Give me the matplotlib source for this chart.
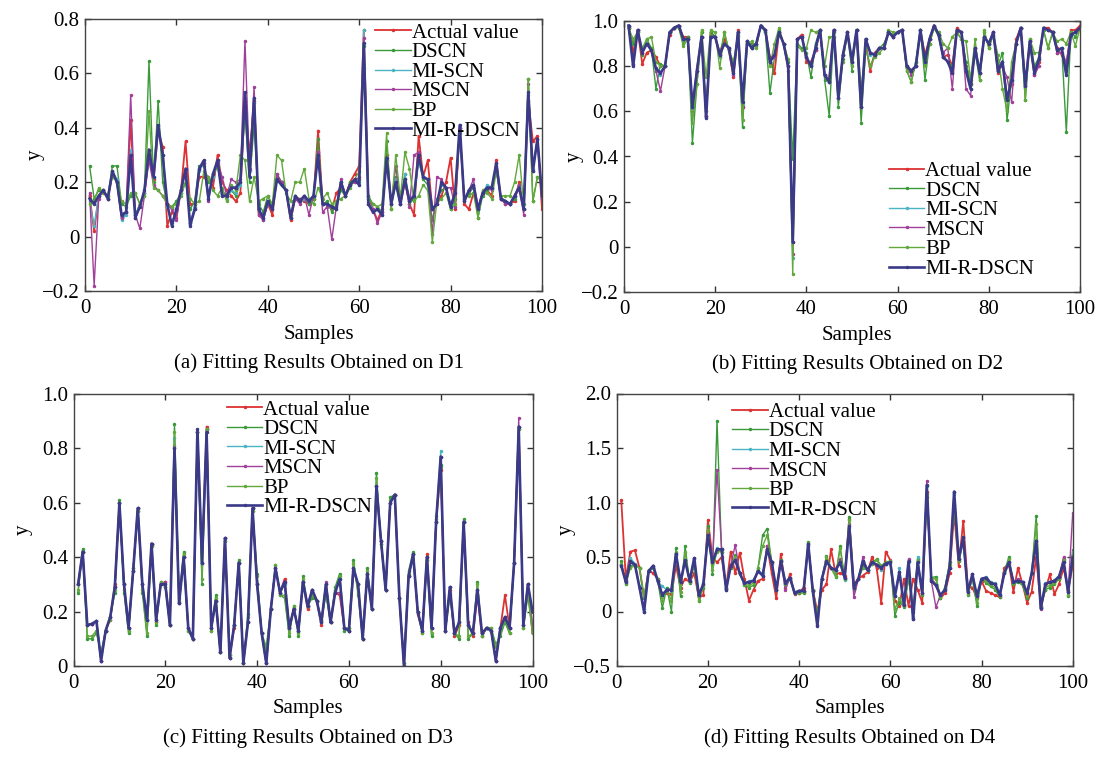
import numpy as np
import matplotlib
matplotlib.use("Agg")
import matplotlib.pyplot as plt

plt.rcParams['font.family'] = ['Liberation Serif', 'DejaVu Serif']
plt.rcParams['font.size'] = 15

samples = np.arange(1, 101)
names = ["Actual value", "DSCN", "MI-SCN", "MSCN", "BP", "MI-R-DSCN"]
colors = ["#dc3232", "#3a9a3a", "#4ab4c4", "#a0409a", "#62a83c", "#3a3a88"]
widths = [1.3, 1.0, 1.0, 1.0, 1.0, 1.9]

# ---- D1 ----
actual_a = [
    0.15, 0.02, 0.15, 0.17, 0.14, 0.23, 0.20, 0.07, 0.09, 0.43,
    0.07, 0.12, 0.16, 0.30, 0.21, 0.39, 0.33, 0.04, 0.09, 0.07,
    0.17, 0.35, 0.12, 0.12, 0.22, 0.22, 0.22, 0.18, 0.30, 0.20,
    0.17, 0.15, 0.13, 0.16, 0.50, 0.30, 0.50, 0.08, 0.07, 0.12,
    0.08, 0.22, 0.20, 0.17, 0.06, 0.14, 0.14, 0.13, 0.12, 0.14,
    0.39, 0.12, 0.12, 0.10, 0.16, 0.18, 0.15, 0.20, 0.23, 0.26,
    0.76, 0.15, 0.10, 0.06, 0.10, 0.30, 0.12, 0.20, 0.12, 0.20,
    0.12, 0.08, 0.37, 0.22, 0.28, 0.10, 0.12, 0.15, 0.20, 0.29,
    0.10, 0.40, 0.12, 0.10, 0.16, 0.10, 0.16, 0.17, 0.15, 0.28,
    0.14, 0.12, 0.12, 0.13, 0.20, 0.10, 0.50, 0.35, 0.37, 0.10]
dscn_a = [
    0.26, 0.14, 0.17, 0.17, 0.15, 0.26, 0.26, 0.12, 0.11, 0.15,
    0.16, 0.12, 0.16, 0.645, 0.20, 0.50, 0.20, 0.12, 0.11, 0.13,
    0.16, 0.20, 0.10, 0.13, 0.26, 0.26, 0.20, 0.22, 0.26, 0.17,
    0.15, 0.17, 0.15, 0.20, 0.46, 0.20, 0.41, 0.12, 0.09, 0.15,
    0.11, 0.23, 0.20, 0.17, 0.08, 0.14, 0.13, 0.14, 0.12, 0.14,
    0.36, 0.12, 0.13, 0.09, 0.12, 0.17, 0.15, 0.20, 0.20, 0.21,
    0.70, 0.15, 0.12, 0.11, 0.09, 0.35, 0.10, 0.22, 0.13, 0.23,
    0.12, 0.14, 0.28, 0.21, 0.19, 0.06, 0.14, 0.17, 0.18, 0.10,
    0.14, 0.39, 0.14, 0.16, 0.18, 0.07, 0.15, 0.17, 0.18, 0.24,
    0.14, 0.13, 0.12, 0.14, 0.19, 0.10, 0.58, 0.13, 0.22, 0.20]
miscn_a = [
    0.13, 0.04, 0.15, 0.17, 0.14, 0.24, 0.21, 0.06, 0.08, 0.32,
    0.08, 0.12, 0.16, 0.28, 0.22, 0.40, 0.30, 0.11, 0.05, 0.10,
    0.16, 0.24, 0.05, 0.11, 0.24, 0.27, 0.14, 0.22, 0.28, 0.16,
    0.14, 0.17, 0.16, 0.19, 0.51, 0.24, 0.49, 0.10, 0.06, 0.12,
    0.10, 0.21, 0.19, 0.17, 0.07, 0.15, 0.13, 0.14, 0.13, 0.15,
    0.31, 0.12, 0.12, 0.11, 0.10, 0.20, 0.15, 0.19, 0.21, 0.20,
    0.76, 0.13, 0.10, 0.10, 0.08, 0.28, 0.12, 0.21, 0.12, 0.23,
    0.13, 0.16, 0.28, 0.22, 0.21, 0.10, 0.13, 0.19, 0.18, 0.12,
    0.16, 0.40, 0.13, 0.17, 0.19, 0.10, 0.16, 0.19, 0.18, 0.26,
    0.14, 0.13, 0.12, 0.15, 0.19, 0.10, 0.52, 0.25, 0.36, 0.15]
mscn_a = [
    0.16, -0.18, 0.14, 0.17, 0.14, 0.24, 0.20, 0.07, 0.09, 0.52,
    0.08, 0.03, 0.15, 0.28, 0.19, 0.17, 0.15, 0.12, 0.10, 0.06,
    0.17, 0.24, 0.05, 0.10, 0.25, 0.27, 0.13, 0.23, 0.27, 0.22,
    0.15, 0.21, 0.20, 0.21, 0.72, 0.25, 0.55, 0.08, 0.06, 0.12,
    0.10, 0.23, 0.20, 0.17, 0.07, 0.14, 0.12, 0.15, 0.08, 0.15,
    0.31, 0.09, 0.11, -0.01, 0.11, 0.21, 0.15, 0.19, 0.20, 0.22,
    0.73, 0.12, 0.10, 0.05, 0.09, 0.28, 0.12, 0.26, 0.12, 0.21,
    0.11, 0.30, 0.31, 0.22, 0.21, 0.01, 0.22, 0.21, 0.18, 0.18,
    0.11, 0.40, 0.13, 0.17, 0.21, 0.11, 0.16, 0.18, 0.17, 0.27,
    0.14, 0.12, 0.12, 0.15, 0.19, 0.08, 0.56, 0.24, 0.36, 0.14]
bp_a = [
    0.12, 0.13, 0.18, 0.16, 0.15, 0.22, 0.20, 0.13, 0.12, 0.16,
    0.16, 0.12, 0.15, 0.46, 0.18, 0.17, 0.15, 0.12, 0.11, 0.12,
    0.15, 0.20, 0.14, 0.12, 0.13, 0.24, 0.22, 0.17, 0.15, 0.18,
    0.13, 0.19, 0.17, 0.30, 0.28, 0.13, 0.22, 0.13, 0.14, 0.15,
    0.12, 0.30, 0.28, 0.16, 0.13, 0.20, 0.20, 0.25, 0.14, 0.12,
    0.18, 0.14, 0.16, 0.12, 0.13, 0.14, 0.15, 0.18, 0.21, 0.24,
    0.62, 0.14, 0.12, 0.11, 0.12, 0.38, 0.10, 0.30, 0.14, 0.31,
    0.25, 0.13, 0.15, 0.19, 0.17, -0.02, 0.13, 0.14, 0.16, 0.10,
    0.12, 0.38, 0.14, 0.15, 0.16, 0.07, 0.17, 0.16, 0.14, 0.24,
    0.15, 0.15, 0.15, 0.20, 0.30, 0.12, 0.58, 0.13, 0.22, 0.20]
mirdscn_a = [
    0.14, 0.12, 0.15, 0.17, 0.14, 0.24, 0.20, 0.08, 0.09, 0.30,
    0.07, 0.11, 0.17, 0.32, 0.22, 0.41, 0.30, 0.12, 0.04, 0.10,
    0.17, 0.25, 0.04, 0.10, 0.25, 0.28, 0.14, 0.23, 0.28, 0.15,
    0.15, 0.18, 0.18, 0.20, 0.53, 0.22, 0.51, 0.10, 0.07, 0.13,
    0.10, 0.21, 0.19, 0.17, 0.07, 0.15, 0.13, 0.15, 0.13, 0.15,
    0.30, 0.12, 0.12, 0.11, 0.10, 0.20, 0.15, 0.19, 0.21, 0.19,
    0.71, 0.12, 0.09, 0.10, 0.08, 0.29, 0.12, 0.20, 0.12, 0.21,
    0.13, 0.15, 0.30, 0.22, 0.21, 0.10, 0.12, 0.20, 0.18, 0.11,
    0.16, 0.41, 0.13, 0.17, 0.19, 0.10, 0.16, 0.18, 0.18, 0.27,
    0.14, 0.13, 0.12, 0.15, 0.18, 0.10, 0.53, 0.24, 0.36, 0.15]

# ---- D2 ----
actual_b = [
    0.97, 0.86, 0.96, 0.81, 0.86, 0.87, 0.84, 0.80, 0.80, 0.94,
    0.97, 0.98, 0.93, 0.93, 0.60, 0.79, 0.93, 0.58, 0.95, 0.93,
    0.86, 0.92, 0.87, 0.75, 0.96, 0.62, 0.91, 0.89, 0.90, 0.98,
    0.96, 0.84, 0.77, 0.95, 0.90, 0.80, 0.02, 0.92, 0.94, 0.82,
    0.82, 0.87, 0.96, 0.76, 0.74, 0.96, 0.66, 0.85, 0.95, 0.82,
    0.96, 0.62, 0.90, 0.78, 0.86, 0.88, 0.88, 0.95, 0.93, 0.95,
    0.96, 0.79, 0.78, 0.80, 0.96, 0.85, 0.92, 0.98, 0.94, 0.84,
    0.85, 0.80, 0.97, 0.95, 0.80, 0.72, 0.88, 0.77, 0.93, 0.90,
    0.95, 0.77, 0.82, 0.66, 0.72, 0.92, 0.97, 0.72, 0.91, 0.76,
    0.82, 0.97, 0.97, 0.95, 0.88, 0.85, 0.80, 0.96, 0.96, 0.98]
dscn_b = [
    0.97, 0.90, 0.95, 0.85, 0.92, 0.88, 0.70, 0.81, 0.80, 0.95,
    0.97, 0.98, 0.90, 0.93, 0.46, 0.72, 0.95, 0.60, 0.95, 0.93,
    0.84, 0.95, 0.87, 0.78, 0.94, 0.53, 0.90, 0.90, 0.89, 0.98,
    0.95, 0.68, 0.84, 0.96, 0.90, 0.82, 0.39, 0.90, 0.88, 0.86,
    0.75, 0.90, 0.96, 0.74, 0.58, 0.95, 0.62, 0.83, 0.94, 0.78,
    0.96, 0.55, 0.88, 0.80, 0.85, 0.88, 0.90, 0.95, 0.94, 0.95,
    0.96, 0.78, 0.73, 0.82, 0.96, 0.74, 0.90, 0.97, 0.93, 0.84,
    0.82, 0.80, 0.95, 0.92, 0.82, 0.72, 0.86, 0.74, 0.95, 0.88,
    0.94, 0.80, 0.86, 0.56, 0.74, 0.90, 0.97, 0.65, 0.92, 0.80,
    0.84, 0.96, 0.88, 0.95, 0.86, 0.88, 0.51, 0.95, 0.93, 0.97]
miscn_b = [
    0.98, 0.81, 0.96, 0.86, 0.90, 0.87, 0.78, 0.76, 0.80, 0.95,
    0.97, 0.98, 0.92, 0.92, 0.61, 0.78, 0.93, 0.58, 0.93, 0.93,
    0.84, 0.90, 0.88, 0.77, 0.95, 0.63, 0.91, 0.88, 0.90, 0.98,
    0.96, 0.82, 0.84, 0.95, 0.90, 0.80, -0.05, 0.92, 0.93, 0.84,
    0.80, 0.88, 0.96, 0.76, 0.73, 0.96, 0.66, 0.85, 0.95, 0.82,
    0.96, 0.62, 0.92, 0.85, 0.85, 0.88, 0.88, 0.95, 0.93, 0.95,
    0.96, 0.80, 0.78, 0.80, 0.96, 0.82, 0.92, 0.98, 0.94, 0.84,
    0.82, 0.77, 0.96, 0.95, 0.78, 0.70, 0.88, 0.77, 0.93, 0.90,
    0.95, 0.78, 0.82, 0.66, 0.73, 0.90, 0.97, 0.71, 0.91, 0.77,
    0.83, 0.97, 0.96, 0.95, 0.87, 0.88, 0.78, 0.94, 0.95, 0.97]
mscn_b = [
    0.98, 0.81, 0.96, 0.86, 0.90, 0.87, 0.78, 0.69, 0.80, 0.95,
    0.97, 0.98, 0.92, 0.92, 0.62, 0.78, 0.93, 0.58, 0.93, 0.93,
    0.85, 0.90, 0.88, 0.76, 0.95, 0.62, 0.91, 0.88, 0.90, 0.98,
    0.96, 0.82, 0.84, 0.95, 0.90, 0.78, -0.03, 0.92, 0.93, 0.84,
    0.80, 0.87, 0.96, 0.76, 0.73, 0.96, 0.66, 0.85, 0.95, 0.82,
    0.96, 0.62, 0.92, 0.86, 0.85, 0.88, 0.88, 0.95, 0.93, 0.95,
    0.96, 0.80, 0.76, 0.80, 0.96, 0.82, 0.92, 0.98, 0.94, 0.86,
    0.88, 0.70, 0.96, 0.95, 0.70, 0.67, 0.88, 0.77, 0.93, 0.90,
    0.95, 0.78, 0.80, 0.75, 0.64, 0.90, 0.97, 0.71, 0.91, 0.76,
    0.80, 0.97, 0.96, 0.95, 0.86, 0.86, 0.82, 0.94, 0.95, 0.97]
bp_b = [
    0.97, 0.92, 0.95, 0.88, 0.92, 0.93, 0.82, 0.80, 0.80, 0.95,
    0.97, 0.97, 0.89, 0.92, 0.55, 0.72, 0.96, 0.75, 0.96, 0.95,
    0.79, 0.95, 0.87, 0.82, 0.93, 0.56, 0.90, 0.91, 0.88, 0.98,
    0.95, 0.80, 0.90, 0.97, 0.90, 0.83, -0.12, 0.89, 0.87, 0.88,
    0.96, 0.95, 0.96, 0.80, 0.93, 0.93, 0.70, 0.82, 0.95, 0.80,
    0.96, 0.70, 0.88, 0.80, 0.84, 0.86, 0.88, 0.96, 0.95, 0.95,
    0.96, 0.78, 0.73, 0.82, 0.96, 0.80, 0.90, 0.97, 0.95, 0.90,
    0.88, 0.93, 0.95, 0.92, 0.91, 0.74, 0.92, 0.74, 0.96, 0.88,
    0.94, 0.85, 0.70, 0.60, 0.82, 0.90, 0.97, 0.65, 0.92, 0.86,
    0.86, 0.96, 0.88, 0.95, 0.91, 0.92, 0.90, 0.95, 0.89, 0.97]
mirdscn_b = [
    0.98, 0.80, 0.96, 0.86, 0.90, 0.87, 0.79, 0.77, 0.80, 0.95,
    0.97, 0.98, 0.92, 0.92, 0.62, 0.78, 0.93, 0.57, 0.93, 0.93,
    0.85, 0.90, 0.88, 0.77, 0.95, 0.64, 0.91, 0.88, 0.90, 0.98,
    0.96, 0.82, 0.85, 0.95, 0.90, 0.80, 0.02, 0.92, 0.93, 0.84,
    0.80, 0.88, 0.96, 0.76, 0.73, 0.96, 0.66, 0.85, 0.95, 0.82,
    0.96, 0.62, 0.92, 0.86, 0.85, 0.88, 0.88, 0.95, 0.93, 0.95,
    0.96, 0.80, 0.78, 0.80, 0.96, 0.82, 0.92, 0.98, 0.94, 0.84,
    0.82, 0.77, 0.96, 0.95, 0.78, 0.70, 0.88, 0.77, 0.93, 0.90,
    0.95, 0.78, 0.82, 0.65, 0.74, 0.90, 0.97, 0.71, 0.91, 0.77,
    0.83, 0.97, 0.96, 0.95, 0.87, 0.88, 0.76, 0.94, 0.95, 0.97]

# ---- D3 ----
actual_c = [
    0.30, 0.42, 0.15, 0.155, 0.165, 0.02, 0.13, 0.17, 0.30, 0.60,
    0.30, 0.14, 0.35, 0.58, 0.30, 0.17, 0.45, 0.16, 0.30, 0.31,
    0.15, 0.80, 0.23, 0.40, 0.14, 0.10, 0.86, 0.38, 0.88, 0.14,
    0.24, 0.05, 0.47, 0.03, 0.14, 0.38, 0.01, 0.16, 0.58, 0.30,
    0.12, 0.01, 0.21, 0.36, 0.27, 0.32, 0.14, 0.21, 0.13, 0.31,
    0.21, 0.28, 0.24, 0.15, 0.30, 0.16, 0.27, 0.26, 0.14, 0.13,
    0.35, 0.30, 0.10, 0.34, 0.21, 0.66, 0.46, 0.28, 0.60, 0.63,
    0.25, 0.00, 0.33, 0.41, 0.19, 0.13, 0.41, 0.14, 0.53, 0.72,
    0.13, 0.28, 0.11, 0.15, 0.53, 0.16, 0.11, 0.26, 0.11, 0.14,
    0.13, 0.02, 0.14, 0.26, 0.14, 0.38, 0.88, 0.15, 0.30, 0.12]
dscn_c = [
    0.27, 0.43, 0.10, 0.10, 0.12, 0.05, 0.13, 0.18, 0.27, 0.61,
    0.27, 0.12, 0.36, 0.57, 0.27, 0.11, 0.44, 0.15, 0.31, 0.29,
    0.15, 0.89, 0.25, 0.42, 0.13, 0.10, 0.86, 0.30, 0.87, 0.13,
    0.26, 0.05, 0.46, 0.04, 0.15, 0.39, 0.01, 0.19, 0.57, 0.34,
    0.12, 0.07, 0.21, 0.37, 0.26, 0.25, 0.11, 0.22, 0.11, 0.33,
    0.22, 0.25, 0.24, 0.17, 0.26, 0.16, 0.29, 0.34, 0.13, 0.14,
    0.39, 0.26, 0.10, 0.36, 0.21, 0.71, 0.45, 0.28, 0.62, 0.63,
    0.25, 0.01, 0.35, 0.42, 0.20, 0.12, 0.39, 0.11, 0.55, 0.74,
    0.13, 0.26, 0.12, 0.10, 0.54, 0.10, 0.12, 0.31, 0.11, 0.14,
    0.14, 0.08, 0.11, 0.16, 0.12, 0.38, 0.87, 0.14, 0.26, 0.12]
miscn_c = [
    0.30, 0.42, 0.15, 0.155, 0.165, 0.02, 0.13, 0.18, 0.29, 0.60,
    0.30, 0.14, 0.35, 0.58, 0.30, 0.17, 0.45, 0.17, 0.30, 0.30,
    0.15, 0.84, 0.23, 0.40, 0.14, 0.10, 0.86, 0.38, 0.87, 0.14,
    0.24, 0.05, 0.47, 0.03, 0.15, 0.38, 0.01, 0.16, 0.58, 0.30,
    0.12, 0.01, 0.21, 0.36, 0.27, 0.30, 0.14, 0.21, 0.13, 0.31,
    0.22, 0.28, 0.24, 0.16, 0.30, 0.16, 0.28, 0.32, 0.14, 0.13,
    0.36, 0.30, 0.10, 0.34, 0.21, 0.66, 0.46, 0.28, 0.60, 0.63,
    0.25, 0.00, 0.33, 0.41, 0.20, 0.13, 0.40, 0.14, 0.53, 0.79,
    0.13, 0.29, 0.12, 0.16, 0.53, 0.15, 0.12, 0.28, 0.12, 0.14,
    0.13, 0.02, 0.14, 0.18, 0.14, 0.38, 0.88, 0.15, 0.30, 0.15]
mscn_c = [
    0.30, 0.42, 0.15, 0.155, 0.165, 0.02, 0.13, 0.18, 0.29, 0.60,
    0.30, 0.14, 0.35, 0.58, 0.30, 0.17, 0.45, 0.17, 0.30, 0.31,
    0.15, 0.81, 0.23, 0.40, 0.14, 0.10, 0.86, 0.38, 0.87, 0.14,
    0.24, 0.05, 0.47, 0.03, 0.15, 0.38, 0.01, 0.16, 0.58, 0.30,
    0.12, 0.01, 0.21, 0.36, 0.27, 0.31, 0.14, 0.21, 0.13, 0.31,
    0.22, 0.28, 0.24, 0.16, 0.31, 0.16, 0.27, 0.27, 0.14, 0.13,
    0.36, 0.30, 0.10, 0.34, 0.21, 0.66, 0.46, 0.28, 0.60, 0.63,
    0.25, 0.00, 0.33, 0.41, 0.20, 0.13, 0.40, 0.14, 0.53, 0.77,
    0.13, 0.29, 0.12, 0.16, 0.53, 0.15, 0.12, 0.28, 0.12, 0.14,
    0.13, 0.02, 0.14, 0.18, 0.14, 0.38, 0.91, 0.15, 0.30, 0.15]
bp_c = [
    0.28, 0.42, 0.11, 0.11, 0.13, 0.04, 0.13, 0.17, 0.28, 0.60,
    0.28, 0.13, 0.36, 0.57, 0.28, 0.12, 0.44, 0.16, 0.31, 0.29,
    0.15, 0.86, 0.24, 0.41, 0.13, 0.10, 0.86, 0.32, 0.87, 0.13,
    0.25, 0.05, 0.46, 0.04, 0.15, 0.38, 0.01, 0.18, 0.57, 0.33,
    0.12, 0.06, 0.21, 0.37, 0.26, 0.26, 0.12, 0.22, 0.12, 0.32,
    0.22, 0.26, 0.24, 0.17, 0.27, 0.16, 0.28, 0.33, 0.14, 0.14,
    0.38, 0.27, 0.10, 0.35, 0.21, 0.69, 0.45, 0.28, 0.61, 0.63,
    0.25, 0.01, 0.34, 0.41, 0.20, 0.12, 0.39, 0.12, 0.54, 0.73,
    0.13, 0.27, 0.12, 0.11, 0.53, 0.11, 0.12, 0.30, 0.11, 0.14,
    0.14, 0.07, 0.12, 0.17, 0.12, 0.38, 0.87, 0.14, 0.27, 0.12]
mirdscn_c = [
    0.30, 0.42, 0.15, 0.155, 0.165, 0.02, 0.13, 0.18, 0.29, 0.60,
    0.30, 0.14, 0.35, 0.58, 0.30, 0.17, 0.45, 0.17, 0.30, 0.30,
    0.15, 0.80, 0.23, 0.40, 0.14, 0.10, 0.87, 0.38, 0.86, 0.14,
    0.24, 0.05, 0.47, 0.03, 0.15, 0.38, 0.01, 0.16, 0.58, 0.30,
    0.12, 0.01, 0.21, 0.36, 0.27, 0.31, 0.14, 0.21, 0.13, 0.31,
    0.22, 0.28, 0.24, 0.16, 0.30, 0.16, 0.27, 0.32, 0.14, 0.13,
    0.36, 0.30, 0.10, 0.34, 0.21, 0.66, 0.46, 0.28, 0.60, 0.63,
    0.25, 0.00, 0.33, 0.41, 0.20, 0.13, 0.40, 0.14, 0.53, 0.77,
    0.13, 0.29, 0.12, 0.16, 0.53, 0.15, 0.12, 0.28, 0.12, 0.14,
    0.13, 0.02, 0.14, 0.18, 0.14, 0.38, 0.88, 0.15, 0.30, 0.20]

# ---- D4 ----
actual_d = [
    1.02, 0.30, 0.55, 0.56, 0.40, 0.12, 0.38, 0.35, 0.30, 0.15,
    0.17, 0.16, 0.42, 0.22, 0.30, 0.27, 0.35, 0.13, 0.15, 0.84,
    0.50, 0.45, 0.50, 0.22, 0.55, 0.35, 0.54, 0.30, 0.10, 0.20,
    0.28, 0.30, 0.60, 0.35, 0.12, 0.53, 0.22, 0.34, 0.16, 0.17,
    0.22, 0.60, 0.20, 0.00, 0.20, 0.25, 0.57, 0.35, 0.35, 0.33,
    0.85, 0.25, 0.30, 0.33, 0.36, 0.50, 0.40, 0.08, 0.55, 0.47,
    0.10, 0.05, 0.30, 0.05, 0.30, 0.20, 0.08, 1.10, 0.30, 0.25,
    0.12, 0.17, 0.35, 0.90, 0.42, 0.83, 0.23, 0.22, 0.12, 0.28,
    0.19, 0.17, 0.15, 0.13, 0.40, 0.44, 0.18, 0.40, 0.25, 0.08,
    0.18, 0.50, 0.05, 0.20, 0.34, 0.16, 0.25, 0.40, 0.20, 0.42]
dscn_d = [
    0.46, 0.25, 0.42, 0.43, 0.40, 0.12, 0.38, 0.40, 0.28, 0.03,
    0.22, 0.00, 0.58, 0.14, 0.60, 0.26, 0.45, 0.10, 0.22, 0.78,
    0.34, 1.75, 0.55, 0.22, 0.40, 0.52, 0.35, 0.24, 0.22, 0.24,
    0.40, 0.70, 0.76, 0.45, 0.20, 0.47, 0.24, 0.30, 0.17, 0.17,
    0.17, 0.64, 0.20, -0.05, 0.30, 0.51, 0.40, 0.32, 0.60, 0.30,
    0.87, 0.20, 0.30, 0.42, 0.38, 0.45, 0.48, 0.42, 0.45, 0.46,
    -0.04, 0.09, 0.04, 0.30, 0.00, 0.48, 0.15, 1.05, 0.31, 0.32,
    0.12, 0.22, 0.45, 0.95, 0.46, 0.64, 0.15, 0.30, 0.05, 0.30,
    0.26, 0.23, 0.20, 0.13, 0.36, 0.50, 0.25, 0.27, 0.24, 0.12,
    0.35, 0.88, 0.03, 0.20, 0.22, 0.25, 0.30, 0.48, 0.14, 0.56]
miscn_d = [
    0.42, 0.28, 0.49, 0.44, 0.23, 0.02, 0.37, 0.41, 0.28, 0.23,
    0.20, 0.19, 0.52, 0.27, 0.46, 0.28, 0.48, 0.15, 0.26, 0.69,
    0.46, 0.58, 0.56, 0.21, 0.42, 0.48, 0.35, 0.26, 0.28, 0.29,
    0.37, 0.35, 0.55, 0.44, 0.20, 0.45, 0.27, 0.31, 0.18, 0.19,
    0.19, 0.60, 0.19, -0.08, 0.30, 0.45, 0.40, 0.37, 0.45, 0.29,
    0.77, 0.22, 0.30, 0.45, 0.38, 0.44, 0.43, 0.38, 0.44, 0.44,
    0.14, 0.40, 0.07, 0.45, -0.05, 0.50, 0.17, 1.15, 0.29, 0.25,
    0.15, 0.21, 0.40, 1.08, 0.48, 0.67, 0.20, 0.34, 0.15, 0.30,
    0.32, 0.27, 0.26, 0.16, 0.35, 0.45, 0.28, 0.29, 0.27, 0.18,
    0.35, 0.62, 0.04, 0.26, 0.27, 0.29, 0.33, 0.45, 0.18, 0.55]
mscn_d = [
    0.43, 0.28, 0.45, 0.42, 0.22, 0.00, 0.37, 0.42, 0.28, 0.16,
    0.20, 0.20, 0.54, 0.27, 0.47, 0.28, 0.49, 0.15, 0.25, 0.71,
    0.45, 1.30, 0.57, 0.20, 0.42, 0.61, 0.35, 0.26, 0.27, 0.28,
    0.37, 0.33, 0.60, 0.45, 0.20, 0.46, 0.20, 0.31, 0.17, 0.19,
    0.19, 0.62, 0.19, -0.12, 0.30, 0.46, 0.40, 0.38, 0.48, 0.31,
    0.80, 0.13, 0.30, 0.50, 0.38, 0.45, 0.43, 0.40, 0.44, 0.45,
    0.14, 0.36, 0.06, 0.48, -0.07, 0.45, 0.17, 1.20, 0.28, 0.04,
    0.15, 0.20, 0.40, 1.10, 0.48, 0.68, 0.18, 0.34, 0.14, 0.30,
    0.31, 0.26, 0.25, 0.15, 0.35, 0.45, 0.27, 0.30, 0.27, 0.17,
    0.35, 0.65, 0.02, 0.25, 0.27, 0.28, 0.32, 0.50, 0.18, 0.90]
bp_d = [
    0.44, 0.26, 0.40, 0.42, 0.40, 0.14, 0.37, 0.40, 0.30, 0.10,
    0.20, 0.10, 0.55, 0.18, 0.55, 0.27, 0.42, 0.11, 0.23, 0.75,
    0.38, 0.55, 0.55, 0.22, 0.42, 0.50, 0.34, 0.25, 0.24, 0.26,
    0.40, 0.60, 0.70, 0.45, 0.20, 0.46, 0.25, 0.30, 0.17, 0.18,
    0.18, 0.63, 0.20, -0.03, 0.30, 0.50, 0.40, 0.33, 0.58, 0.30,
    0.84, 0.22, 0.30, 0.40, 0.38, 0.44, 0.47, 0.42, 0.45, 0.46,
    0.02, 0.12, 0.05, 0.32, 0.02, 0.47, 0.16, 1.08, 0.30, 0.30,
    0.13, 0.22, 0.43, 0.98, 0.46, 0.65, 0.16, 0.31, 0.08, 0.30,
    0.28, 0.24, 0.22, 0.14, 0.36, 0.48, 0.26, 0.28, 0.25, 0.14,
    0.35, 0.80, 0.04, 0.22, 0.24, 0.26, 0.31, 0.47, 0.15, 0.52]
mirdscn_d = [
    0.42, 0.27, 0.46, 0.43, 0.22, 0.00, 0.37, 0.42, 0.28, 0.15,
    0.20, 0.20, 0.53, 0.27, 0.47, 0.28, 0.49, 0.15, 0.25, 0.70,
    0.45, 0.57, 0.57, 0.20, 0.42, 0.47, 0.35, 0.26, 0.27, 0.28,
    0.37, 0.33, 0.57, 0.45, 0.20, 0.46, 0.26, 0.31, 0.17, 0.19,
    0.19, 0.62, 0.19, -0.13, 0.30, 0.46, 0.40, 0.38, 0.45, 0.31,
    0.78, 0.22, 0.30, 0.46, 0.38, 0.45, 0.43, 0.40, 0.44, 0.45,
    0.14, 0.36, 0.06, 0.46, -0.07, 0.45, 0.17, 1.16, 0.28, 0.24,
    0.15, 0.20, 0.40, 1.10, 0.48, 0.68, 0.18, 0.34, 0.14, 0.30,
    0.31, 0.26, 0.25, 0.15, 0.35, 0.45, 0.27, 0.28, 0.27, 0.17,
    0.35, 0.65, 0.03, 0.25, 0.27, 0.28, 0.32, 0.45, 0.18, 0.50]

yticks_a = [-0.2, 0, 0.2, 0.4, 0.6, 0.8]
ylabels_a = ["\u22120.2", "0", "0.2", "0.4", "0.6", "0.8"]
yticks_b = [-0.2, 0, 0.2, 0.4, 0.6, 0.8, 1.0]
ylabels_b = ["\u22120.2", "0", "0.2", "0.4", "0.6", "0.8", "1.0"]
yticks_c = [0, 0.2, 0.4, 0.6, 0.8, 1.0]
ylabels_c = ["0", "0.2", "0.4", "0.6", "0.8", "1.0"]
yticks_d = [-0.5, 0, 0.5, 1.0, 1.5, 2.0]
ylabels_d = ["\u22120.5", "0", "0.5", "1.0", "1.5", "2.0"]
xticks = [0, 20, 40, 60, 80, 100]

W, H = 1100, 758
fig = plt.figure(figsize=(W / 100, H / 100), dpi=100)


def px_axes(l, t, r, b):
    return fig.add_axes([l / W, 1 - b / H, (r - l) / W, (b - t) / H])


panels = [
    # axes box (px), series, yticks, labels, legend anchor, caption
    ((85, 19, 542, 291), [actual_a, dscn_a, miscn_a, mscn_a, bp_a, mirdscn_a],
     yticks_a, ylabels_a, (0.635, 0.985), "(a) Fitting Results Obtained on D1"),
    ((624, 21, 1080, 292), [actual_b, dscn_b, miscn_b, mscn_b, bp_b, mirdscn_b],
     yticks_b, ylabels_b, (0.581, 0.482), "(b) Fitting Results Obtained on D2"),
    ((73.5, 394, 532.5, 666), [actual_c, dscn_c, miscn_c, mscn_c, bp_c, mirdscn_c],
     yticks_c, ylabels_c, (0.334, 0.978), "(c) Fitting Results Obtained on D3"),
    ((616.7, 393.5, 1072.7, 666), [actual_d, dscn_d, miscn_d, mscn_d, bp_d, mirdscn_d],
     yticks_d, ylabels_d, (0.2535, 0.968), "(d) Fitting Results Obtained on D4"),
]

for box, series, yt, yl, anchor, caption in panels:
    l, t, r, b = box
    ax = px_axes(l, t, r, b)
    for vals, name, c, lw in zip(series, names, colors, widths):
        ax.plot(samples, vals, color=c, lw=lw, marker=".", ms=3, label=name)
    ax.set_xlim(0, 100)
    ax.set_ylim(yt[0], yt[-1])
    ax.set_xticks(xticks)
    ax.set_yticks(yt)
    ax.set_yticklabels(yl)
    ax.tick_params(direction="in", top=True, right=True, length=4, width=1,
                   labelsize=15, color="#333333")
    ax.tick_params(axis="x", pad=6)
    ax.tick_params(axis="y", pad=4)
    for s in ax.spines.values():
        s.set_color("#444444")
        s.set_linewidth(1.0)
    ax.legend(loc="upper left", bbox_to_anchor=anchor, frameon=False,
              fontsize=15, handlelength=1.7, handletextpad=0.05,
              labelspacing=0.0, borderpad=0, borderaxespad=0)
    cx = (l + r) / 2 + 5
    fig.text(cx / W, 1 - (b + 43) / H, "Samples", ha="center", va="center", fontsize=15)
    fig.text(cx / W, 1 - (b + 72) / H, caption, ha="center", va="center", fontsize=15)
    fig.text((l - 50) / W, 1 - ((t + b) / 2) / H, "y", rotation=90,
             ha="center", va="center", fontsize=15)

fig.savefig("out.png", dpi=100)
